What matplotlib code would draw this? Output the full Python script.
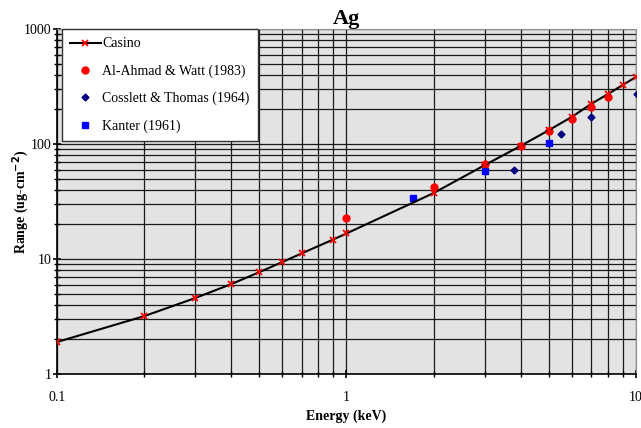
import matplotlib
matplotlib.use("Agg")
import matplotlib.pyplot as plt
from matplotlib.ticker import LogLocator, FixedLocator, NullFormatter

plt.rcParams['font.family'] = ['Liberation Serif', 'DejaVu Serif']

# Casino (simulation)
casino_e = [0.1, 0.2, 0.3, 0.4, 0.5, 0.6, 0.7, 0.9, 1.0, 2, 3, 4, 5, 6, 7, 8, 9, 10]
casino_r = [1.90, 3.19, 4.58, 6.06, 7.70, 9.42, 11.2, 14.8, 16.7, 37.5, 65.5, 96.5, 132, 172, 223, 272, 326, 383]

# Al-Ahmad & Watt (1983)
ahmad_e = [1, 2, 3, 4, 5, 6, 7, 8]
ahmad_r = [22.7, 42.3, 67, 96, 130, 165, 210, 256]

# Cosslett & Thomas (1964)
coss_e = [3.8, 5.5, 7, 10.1]
coss_r = [60, 122, 172, 272]

# Kanter (1961)
kanter_e = [1.7, 3, 5]
kanter_r = [33.9, 58.2, 102]

fig = plt.figure(figsize=(6.41, 4.28), dpi=100)
ax = fig.add_axes([0.089, 0.126, 0.903, 0.806])
ax.set_facecolor('#e3e3e3')

ax.plot(casino_e, casino_r, color='black', lw=1.5, marker='x', ms=4.5,
        mec='red', mew=1.3, label='Casino', zorder=4)
ax.plot(ahmad_e, ahmad_r, ls='none', marker='o', ms=5, color='red',
        label='Al-Ahmad & Watt (1983)', zorder=3)
ax.plot(coss_e, coss_r, ls='none', marker='D', ms=3.5, color='#000080',
        label='Cosslett & Thomas (1964)', zorder=3)
ax.plot(kanter_e, kanter_r, ls='none', marker='s', ms=5, color='blue',
        label='Kanter (1961)', zorder=3)

ax.set_xscale('log')
ax.set_yscale('log')
ax.set_xlim(0.1, 10)
ax.set_ylim(1, 1000)

ax.xaxis.set_major_locator(FixedLocator([0.1, 1, 10]))
ax.xaxis.set_minor_locator(LogLocator(base=10, subs=range(2, 10)))
ax.yaxis.set_major_locator(FixedLocator([1, 10, 100, 1000]))
ax.yaxis.set_minor_locator(LogLocator(base=10, subs=range(2, 10)))
ax.xaxis.set_minor_formatter(NullFormatter())
ax.yaxis.set_minor_formatter(NullFormatter())
ax.set_xticklabels(['0.1', '1', '10'])
ax.set_yticklabels(['1', '10', '100', '1000'])

ax.grid(True, which='both', color='#1a1a1a', lw=0.9)
ax.set_axisbelow(True)

ax.tick_params(axis='both', which='major', direction='inout', length=6,
               width=1.2, labelsize=10)
ax.tick_params(axis='both', which='minor', direction='inout', length=4, width=1)
ax.tick_params(axis='x', which='major', pad=9)
ax.tick_params(axis='y', which='major', pad=1)

for side in ['top', 'right']:
    ax.spines[side].set_color('#909090')
for side in ['left', 'bottom']:
    ax.spines[side].set_color('black')
    ax.spines[side].set_linewidth(1.2)

ax.set_title('Ag', fontsize=16, fontweight='bold', pad=2)
ax.set_xlabel('Energy (keV)', fontsize=10, fontweight='bold')
ax.set_ylabel('Range (ug-cm$^{\\mathbf{-2}}$)', fontsize=10, fontweight='bold')
ax.xaxis.set_label_coords(0.5, -0.104)
ax.yaxis.set_label_coords(-0.045, 0.5)

leg = ax.legend(loc='upper left', bbox_to_anchor=(0.008, 1.0), fontsize=10,
                frameon=True, fancybox=False, framealpha=1, edgecolor='#333333',
                labelspacing=1.0, handlelength=2.2, handletextpad=0.1,
                borderpad=0.6, borderaxespad=0)
leg.get_frame().set_linewidth(1.0)

fig.savefig('out.png', dpi=100)
